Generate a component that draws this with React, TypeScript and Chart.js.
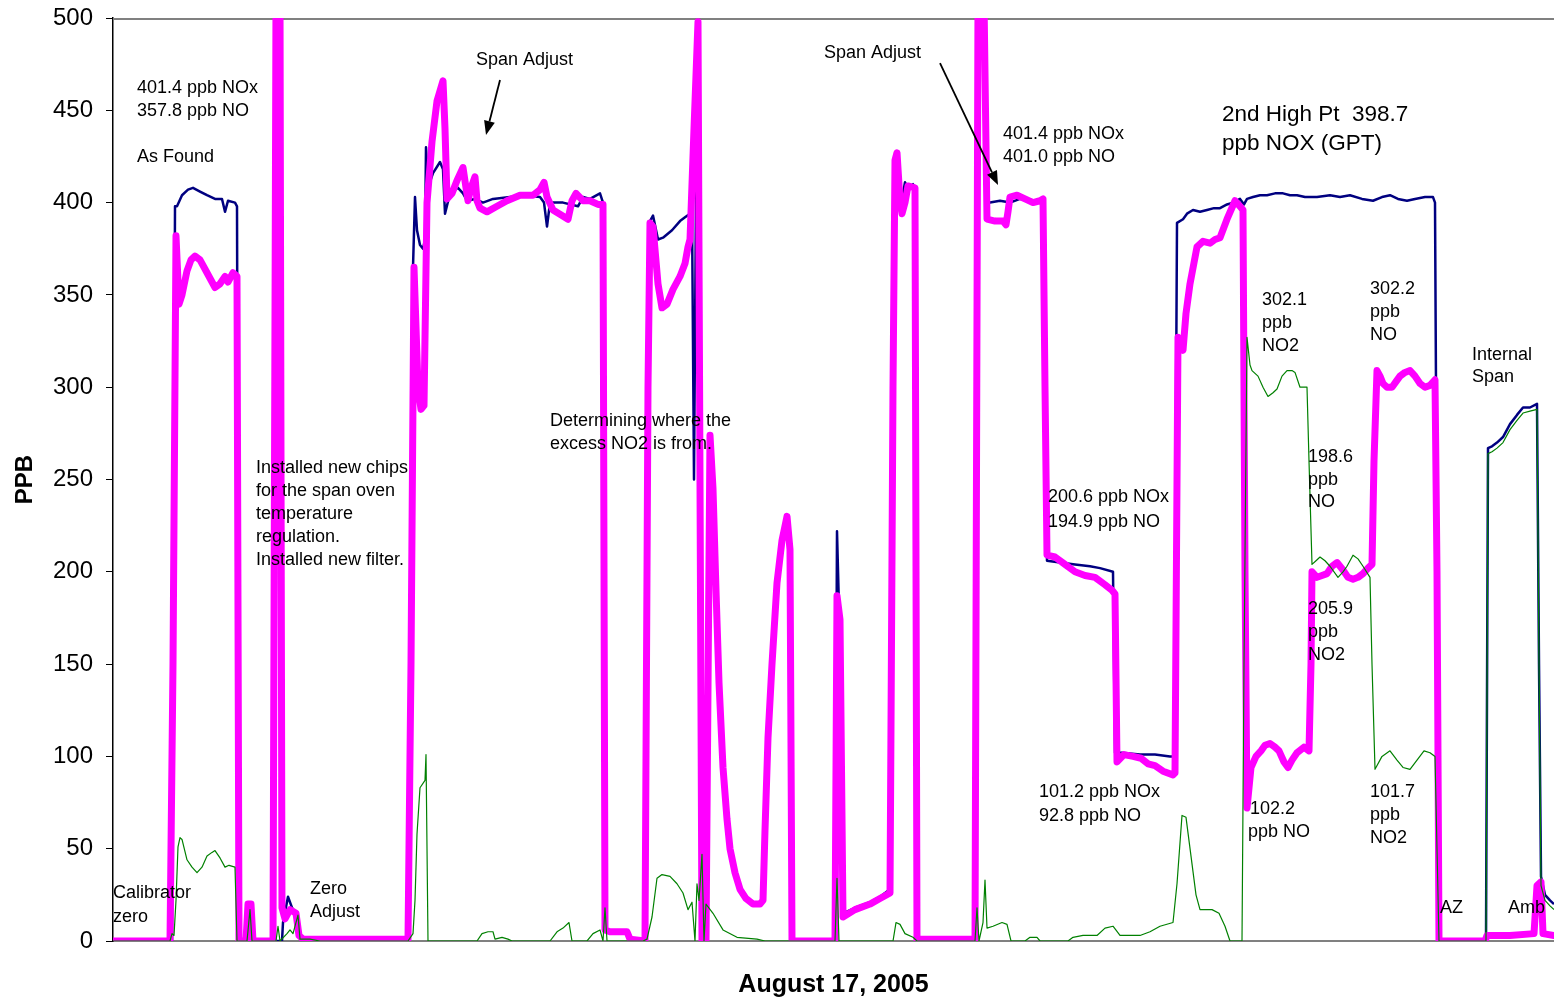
import React, { useEffect, useRef } from 'react';
import { Chart, registerables } from 'chart.js';

Chart.register(...registerables);

const FONT = '"Liberation Sans", Arial, Helvetica, sans-serif';

// x = minute of the day (August 17, 2005), y = ppb
const yTickValues = [0, 50, 100, 150, 200, 250, 300, 350, 400, 450, 500];

const noxPoints: [number, number][] = [
  [0,0],[59,0],[62,398],[64,398],[69,404],[75,407],[80,408],[87,406],[94,404],[102,402],[109,402],[112,395],[115,401],[122,400],[124,398],[126,0],
  [169,0],[170,10],[175,24],[179,18],[183,15],[186,2],[192,1],[295,1],[298,150],[300,365],[302,403],[304,385],[307,377],[310,375],[312,380],[313,430],[315,408],
  [320,416],[327,422],[330,418],[332,394],[337,405],[345,408],[350,405],[354,401],[362,402],[370,400],[380,402],[397,403],[412,404],[427,403],[431,400],[434,387],
  [437,400],[450,400],[465,398],[470,403],[477,402],[487,405],[490,400],[493,6],[514,5],[518,1],[533,0],[537,390],[540,393],[545,380],[550,381],[559,385],
  [567,390],[572,392],[577,394],[579,396],[581,250],[584,480],[588,0],[593,0],[597,270],[600,242],[603,188],[606,138],[610,93],[614,65],[617,50],[622,37],
  [627,28],[633,23],[640,21],[647,21],[650,23],[652,60],[655,110],[659,150],[664,194],[669,217],[674,229],[677,210],[679,0],[722,0],[724,222],[726,180],
  [730,15],[742,18],[757,21],[767,24],[777,28],[780,300],[783,425],[787,402],[790,405],[792,411],[795,408],[800,410],[803,406],[805,0],[862,1],[865,500],
  [871,500],[874,400],[877,400],[887,401],[897,400],[907,402],[914,402],[922,401],[927,401],[931,400],[934,206],[947,205],[962,204],[977,203],[987,202],
  [1000,200],[1002,102],[1009,102],[1027,101],[1042,101],[1057,100],[1061,100],[1064,389],[1070,391],[1074,394],[1080,396],[1087,395],[1094,396],[1101,397],
  [1107,397],[1114,399],[1120,400],[1127,402],[1131,399],[1134,402],[1140,403],[1147,404],[1154,404],[1162,405],[1170,405],[1177,404],[1184,404],[1192,403],
  [1204,403],[1217,404],[1227,403],[1237,404],[1249,402],[1260,401],[1269,403],[1277,404],[1285,402],[1294,401],[1302,402],[1312,403],[1320,403],[1322,400],
  [1324,200],[1326,0],[1373,0],[1375,267],[1379,268],[1384,270],[1390,273],[1397,280],[1404,285],[1410,289],[1417,289],[1424,291],[1426,150],[1428,35],
  [1432,25],[1437,22],[1441,20],
];

const noPoints: [number, number][] = [
  [0,0],[57,0],[60,150],[63,382],[66,345],[69,350],[74,363],[78,369],[82,371],[87,369],[94,362],[102,354],[107,356],[112,360],[115,357],[120,362],[124,360],
  [126,0],[133,0],[135,20],[138,20],[140,0],[160,0],[163,510],[167,510],[169,18],[172,12],[177,17],[183,15],[186,3],[190,1],[295,1],[298,150],[301,365],
  [305,300],[308,288],[311,290],[314,400],[319,433],[324,455],[330,466],[332,440],[334,402],[339,405],[344,412],[350,419],[353,408],[355,401],[358,408],
  [362,414],[364,401],[367,397],[374,395],[384,398],[394,401],[407,404],[420,404],[427,407],[431,411],[434,403],[440,396],[449,393],[455,391],[459,401],
  [463,405],[470,401],[477,401],[485,399],[490,399],[492,6],[497,5],[514,5],[517,1],[532,0],[535,300],[537,389],[540,387],[545,356],[549,343],[554,345],
  [560,353],[567,360],[572,367],[575,376],[577,380],[581,440],[585,498],[589,0],[593,0],[597,274],[600,245],[603,190],[606,140],[610,94],[614,66],[617,50],
  [622,37],[627,28],[633,23],[640,20],[647,20],[650,22],[652,60],[655,110],[659,150],[664,194],[669,217],[674,230],[677,212],[679,0],[722,0],[724,187],
  [727,174],[730,13],[742,17],[757,20],[767,23],[777,26],[780,300],[782,423],[784,427],[787,401],[789,394],[792,400],[795,409],[802,408],[804,0],[807,1],
  [862,1],[865,510],[871,510],[874,391],[882,390],[890,390],[893,388],[895,395],[897,403],[904,404],[912,402],[920,400],[927,401],[930,402],[932,300],
  [934,209],[942,208],[952,204],[962,200],[972,198],[982,197],[992,193],[999,190],[1002,188],[1004,97],[1011,101],[1020,100],[1028,99],[1035,96],[1042,95],
  [1050,92],[1060,90],[1062,91],[1065,327],[1070,320],[1073,340],[1077,356],[1084,376],[1090,379],[1097,378],[1102,380],[1107,381],[1114,391],[1122,401],
  [1127,398],[1130,396],[1132,200],[1134,72],[1138,94],[1143,100],[1148,103],[1152,106],[1157,107],[1162,105],[1166,103],[1171,97],[1175,94],[1179,98],
  [1184,102],[1191,105],[1196,103],[1198,150],[1199,200],[1204,197],[1209,198],[1214,199],[1219,203],[1224,205],[1230,201],[1235,197],[1240,196],[1245,197],
  [1250,199],[1255,202],[1259,204],[1261,260],[1264,309],[1267,306],[1270,302],[1274,300],[1279,300],[1283,303],[1287,306],[1292,308],[1297,309],[1302,306],
  [1307,302],[1312,300],[1317,301],[1322,304],[1324,200],[1326,0],[1372,0],[1374,3],[1397,3],[1421,4],[1424,30],[1428,32],[1430,4],[1441,3],
];

const no2Points: [number, number][] = [
  [0,0],[57,0],[59,4],[61,3],[63,22],[65,51],[67,56],[69,55],[74,44],[79,40],[84,37],[89,40],[94,46],[99,48],[102,49],[107,45],[112,40],[116,41],[122,40],
  [124,0],[134,0],[137,17],[139,0],[163,0],[165,8],[167,0],[174,4],[177,6],[180,4],[185,14],[187,1],[197,1],[207,0],[295,0],[300,4],[302,22],[304,58],
  [307,83],[312,87],[313,101],[315,0],[364,0],[369,4],[375,5],[380,5],[382,1],[389,2],[395,1],[399,0],[437,0],[444,5],[450,7],[456,10],[459,0],[474,0],
  [480,4],[487,6],[490,0],[492,18],[494,0],[530,0],[534,1],[539,13],[544,34],[549,36],[557,35],[564,31],[570,26],[575,17],[579,21],[582,0],[584,31],
  [586,22],[589,47],[591,0],[593,20],[600,15],[610,6],[624,2],[644,1],[652,0],[722,0],[724,34],[726,0],[780,0],[783,10],[787,9],[792,4],[800,2],[804,0],
  [862,0],[864,18],[866,0],[870,10],[872,33],[874,7],[880,8],[889,10],[894,9],[898,0],[912,0],[917,2],[924,2],[927,0],[955,0],[960,2],[970,3],[984,3],
  [992,7],[1000,8],[1007,3],[1017,3],[1027,3],[1037,5],[1047,8],[1060,10],[1064,31],[1069,68],[1073,67],[1078,46],[1083,25],[1087,17],[1099,17],[1106,15],
  [1112,8],[1117,0],[1129,0],[1131,150],[1134,327],[1137,312],[1139,309],[1145,306],[1150,300],[1155,295],[1160,297],[1164,299],[1169,306],[1174,309],
  [1179,309],[1182,308],[1187,300],[1194,300],[1196,260],[1199,204],[1203,206],[1207,208],[1212,206],[1217,203],[1225,197],[1230,200],[1234,203],[1240,209],
  [1245,207],[1250,203],[1257,197],[1259,150],[1262,93],[1269,100],[1277,103],[1284,98],[1290,94],[1297,93],[1304,98],[1311,103],[1317,102],[1322,100],
  [1324,50],[1326,0],[1373,0],[1375,264],[1379,265],[1384,267],[1390,270],[1397,277],[1404,282],[1410,286],[1417,287],[1424,288],[1426,150],[1428,30],
  [1432,22],[1437,19],[1441,17],
];

// annotation texts anchored at [minute, ppb]
const notes: [string, number, number][] = [
  ['401.4 ppb NOx', 24, 462.1], ['357.8 ppb NO', 24, 449.6], ['As Found', 24, 424.7],
  ['Span Adjust', 363, 477.2], ['Span Adjust', 711, 481.0],
  ['401.4 ppb NOx', 890, 437.2], ['401.0 ppb NO', 890, 424.7],
  ['302.1', 1149, 347.2], ['ppb', 1149, 334.8], ['NO2', 1149, 322.3],
  ['302.2', 1257, 353.2], ['ppb', 1257, 340.7], ['NO', 1257, 328.3],
  ['Internal', 1359, 317.4], ['Span', 1359, 305.5],
  ['198.6', 1195, 262.2], ['ppb', 1195, 249.7], ['NO', 1195, 237.8],
  ['Determining where the', 437, 281.7], ['excess NO2 is from.', 437, 269.2],
  ['Installed new chips', 143, 256.2], ['for the span oven', 143, 243.8], ['temperature', 143, 231.3],
  ['regulation.', 143, 218.9], ['Installed new filter.', 143, 206.4],
  ['200.6 ppb NOx', 935, 240.5], ['194.9 ppb NO', 935, 227.0],
  ['205.9', 1195, 179.8], ['ppb', 1195, 167.4], ['NO2', 1195, 154.9],
  ['101.2 ppb NOx', 926, 80.7], ['92.8 ppb NO', 926, 67.7],
  ['102.2', 1137, 71.5], ['ppb NO', 1135, 59.0],
  ['101.7', 1257, 80.7], ['ppb', 1257, 68.3], ['NO2', 1257, 55.8],
  ['Calibrator', 0, 26.0], ['zero', 0, 13.0],
  ['Zero', 197, 28.2], ['Adjust', 197, 15.7],
  ['AZ', 1327, 17.9], ['Amb', 1395, 17.9],
];

const bigNotes: [string, number, number][] = [
  ['2nd High Pt  398.7', 1109, 447.5], ['ppb NOX (GPT)', 1109, 431.7],
];

// arrows [fromMinute, fromPpb, toMinute, toPpb]
const arrows: [number, number, number, number][] = [
  [387, 466.4, 373, 436.6],
  [827, 475.6, 885, 409.5],
];

const toXY = (pts: [number, number][]) => pts.map(([x, y]) => ({ x, y }));

const framePlugin = {
  id: 'frame',
  beforeDatasetsDraw(chart: any) {
    const { ctx, chartArea } = chart;
    ctx.save();
    ctx.strokeStyle = '#808080';
    ctx.lineWidth = 2;
    ctx.beginPath();
    ctx.moveTo(chartArea.left, chartArea.top + 1);
    ctx.lineTo(chartArea.right, chartArea.top + 1);
    ctx.stroke();
    ctx.restore();
  },
};

const notesPlugin = {
  id: 'notes',
  afterDraw(chart: any) {
    const { ctx } = chart;
    const xs = chart.scales.x;
    const ys = chart.scales.y;
    ctx.save();
    ctx.fillStyle = '#000';
    ctx.textAlign = 'left';
    ctx.textBaseline = 'middle';
    ctx.font = `18px ${FONT}`;
    notes.forEach(([t, x, y]) => ctx.fillText(t, xs.getPixelForValue(x), ys.getPixelForValue(y)));
    ctx.font = `22.5px ${FONT}`;
    bigNotes.forEach(([t, x, y]) => ctx.fillText(t, xs.getPixelForValue(x), ys.getPixelForValue(y)));
    ctx.strokeStyle = '#000';
    ctx.lineWidth = 1.8;
    arrows.forEach(([x1, y1, x2, y2]) => {
      const px1 = xs.getPixelForValue(x1), py1 = ys.getPixelForValue(y1);
      const px2 = xs.getPixelForValue(x2), py2 = ys.getPixelForValue(y2);
      const ang = Math.atan2(py2 - py1, px2 - px1);
      const L = 14, W = 5.5;
      const bx = px2 - L * Math.cos(ang), by = py2 - L * Math.sin(ang);
      ctx.beginPath();
      ctx.moveTo(px1, py1);
      ctx.lineTo(bx, by);
      ctx.stroke();
      ctx.beginPath();
      ctx.moveTo(px2, py2);
      ctx.lineTo(bx + W * Math.sin(ang), by - W * Math.cos(ang));
      ctx.lineTo(bx - W * Math.sin(ang), by + W * Math.cos(ang));
      ctx.closePath();
      ctx.fill();
    });
    ctx.restore();
  },
};

export default function App() {
  const ref = useRef<HTMLCanvasElement>(null);
  useEffect(() => {
    const canvas = ref.current;
    if (!canvas) return;
    const chart = new Chart(canvas, {
      type: 'line',
      data: {
        datasets: [
          {
            label: 'NO2',
            data: toXY(no2Points),
            borderColor: '#008000',
            borderWidth: 1.2,
            pointRadius: 0,
            tension: 0,
            fill: false,
            borderJoinStyle: 'round',
          },
          {
            label: 'NO',
            data: toXY(noPoints),
            borderColor: '#FF00FF',
            borderWidth: 7,
            pointRadius: 0,
            tension: 0,
            fill: false,
            borderJoinStyle: 'round',
            borderCapStyle: 'round',
          },
          {
            label: 'NOx',
            data: toXY(noxPoints),
            borderColor: '#000080',
            borderWidth: 2.5,
            pointRadius: 0,
            tension: 0,
            fill: false,
            borderJoinStyle: 'round',
          },
        ],
      } as any,
      options: {
        responsive: false,
        animation: false,
        devicePixelRatio: 1,
        layout: { padding: { top: 18, left: 0, right: 0, bottom: 0 } },
        plugins: {
          legend: { display: false },
          tooltip: { enabled: false },
        },
        scales: {
          x: {
            type: 'linear',
            min: 0,
            max: 1441,
            ticks: { display: false },
            grid: { display: false },
            border: { display: true, color: '#808080', width: 2 },
            title: {
              display: true,
              text: 'August 17, 2005',
              color: '#000',
              font: { family: FONT, size: 25, weight: 'bold' },
              padding: { top: 0, bottom: 1 },
            },
            afterFit: (s: any) => { s.height = 60; s.paddingLeft = 0; s.paddingRight = 0; },
          },
          y: {
            type: 'linear',
            min: 0,
            max: 500,
            afterBuildTicks: (s: any) => { s.ticks = yTickValues.map((v) => ({ value: v })); },
            ticks: {
              color: '#000',
              padding: 13,
              font: { family: FONT, size: 24 },
              callback: (v: any) => String(v),
            },
            grid: { drawOnChartArea: false, drawTicks: true, tickLength: 7, color: '#000', lineWidth: 1 },
            border: { display: true, color: '#000', width: 1.5 },
            title: {
              display: true,
              text: 'PPB',
              color: '#000',
              font: { family: FONT, size: 24, weight: 'bold' },
              padding: { top: 11, bottom: 0 },
            },
            afterFit: (s: any) => { s.width = 113; s.paddingTop = 0; s.paddingBottom = 0; },
          },
        },
      } as any,
      plugins: [framePlugin, notesPlugin],
    });
    return () => chart.destroy();
  }, []);
  return (
    <div style={{ position: 'absolute', left: 0, top: 0, width: 1554, height: 1001, background: '#fff' }}>
      <canvas ref={ref} width={1554} height={1001} style={{ display: 'block', width: 1554, height: 1001 }} />
    </div>
  );
}
